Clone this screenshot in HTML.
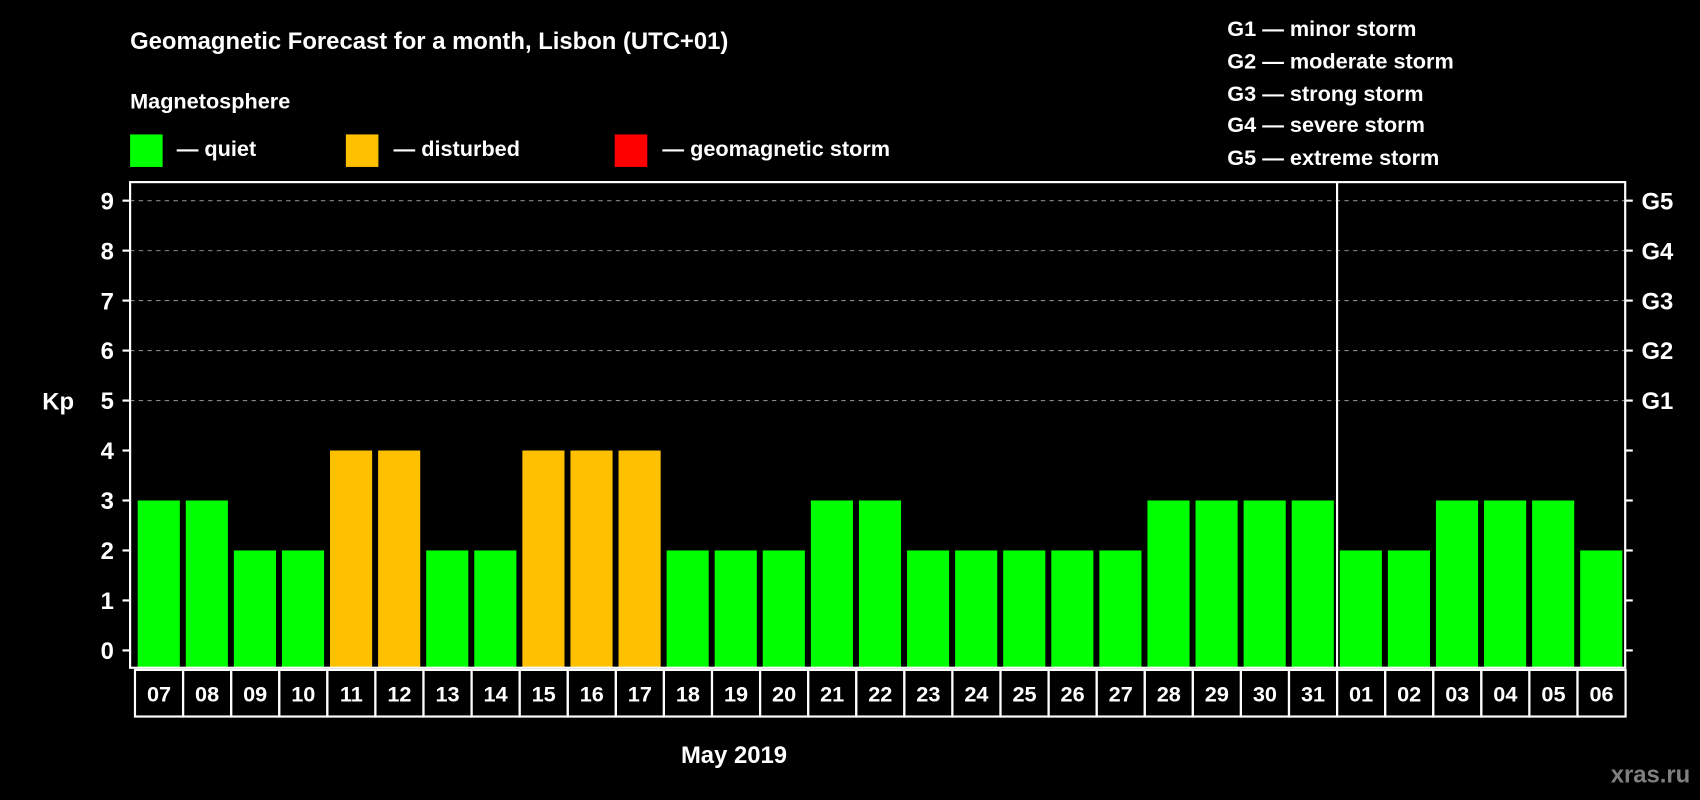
<!DOCTYPE html>
<html><head><meta charset="utf-8"><style>
html,body{margin:0;padding:0;background:#000;}
svg{display:block;font-family:"Liberation Sans",Arial,sans-serif;font-weight:bold;}
</style></head><body>
<svg id="chart" width="1700" height="800" viewBox="0 0 1568 738" preserveAspectRatio="none" xmlns="http://www.w3.org/2000/svg">
<rect width="1568" height="738" fill="#000"/>
<text x="120" y="45" fill="#fff" font-size="22">Geomagnetic Forecast for a month, Lisbon (UTC+01)</text>
<text x="120" y="100" fill="#fff" font-size="20">Magnetosphere</text>
<g><rect x="120" y="124" width="30" height="30" fill="#00ff00"/><text x="163" y="144" fill="#fff" font-size="20">— quiet</text></g>
<g><rect x="319" y="124" width="30" height="30" fill="#ffc000"/><text x="363" y="144" fill="#fff" font-size="20">— disturbed</text></g>
<g><rect x="567" y="124" width="30" height="30" fill="#ff0000"/><text x="611" y="144" fill="#fff" font-size="20">— geomagnetic storm</text></g>
<g fill="#fff" font-size="20">
<text x="1132" y="33">G1 — minor storm</text>
<text x="1132" y="63">G2 — moderate storm</text>
<text x="1132" y="93">G3 — strong storm</text>
<text x="1132" y="122">G4 — severe storm</text>
<text x="1132" y="152">G5 — extreme storm</text>
</g>
<text x="39" y="378" fill="#fff" font-size="22">Kp</text>
<text x="677" y="704" fill="#fff" font-size="22" text-anchor="middle">May 2019</text>
<text x="1559" y="722" fill="#808080" font-size="22" text-anchor="end">xras.ru</text>
<g id="grid"></g><g id="bars"></g><g id="days"></g><g id="axes"></g>
</svg>
<script>
const days=["07","08","09","10","11","12","13","14","15","16","17","18","19","20","21","22","23","24","25","26","27","28","29","30","31","01","02","03","04","05","06"];
const kp=[3,3,2,2,4,4,2,2,4,4,4,2,2,2,3,3,2,2,2,2,2,3,3,3,3,2,2,3,3,3,2];
const yTicks=[0,1,2,3,4,5,6,7,8,9];
const gLabels=["G1","G2","G3","G4","G5"];
const NS="http://www.w3.org/2000/svg";
const L=120,R=1499,T=168,B=616,X0=124.5,P=44.35;
const y=v=>600-v*46.1;
const x=i=>X0+i*P;
function mk(t,a,p){const e=document.createElementNS(NS,t);for(const k in a)e.setAttribute(k,a[k]);p.appendChild(e);return e;}
const grid=document.getElementById('grid'),bars=document.getElementById('bars'),dg=document.getElementById('days'),ax=document.getElementById('axes');
yTicks.forEach(v=>{
 if(v>=5){const g=mk('line',{x1:L,x2:R,y1:y(v),y2:y(v),stroke:'#888','stroke-dasharray':'4,4','stroke-width':1},grid);
 
 }
 const t1=mk('line',{x1:L-7,x2:L,y1:y(v),y2:y(v),stroke:'#fff','stroke-width':2},ax);
 
 
 const t2=mk('line',{x1:R,x2:R+7,y1:y(v),y2:y(v),stroke:'#fff','stroke-width':2},ax);
 
 
 const lb=mk('text',{x:105,y:y(v)+8,fill:'#fff','font-size':22,'text-anchor':'end'},ax);lb.textContent=v;
 
 
});
gLabels.forEach((g,i)=>{const t=mk('text',{x:1514,y:y(5+i)+8,fill:'#fff','font-size':22},ax);t.textContent=g;
 
 });
kp.forEach((v,i)=>{
 const c=v>=5?'#ff0000':(v>=4?'#ffc000':'#00ff00');
 const b=mk('rect',{x:x(i)+2.5,y:y(v),width:P-5.5,height:B-y(v),fill:c},bars);
 
 
 const c2=mk('rect',{x:x(i),y:618,width:P,height:43,fill:'none',stroke:'#fff','stroke-width':2},dg);
 
 
 const t=mk('text',{x:x(i)+P/2,y:647,fill:'#fff','font-size':20,'text-anchor':'middle'},dg);t.textContent=days[i];
 
 
});
const fr=mk('rect',{x:L,y:T,width:R-L,height:B-T,fill:'none',stroke:'#fff','stroke-width':2},ax);


const mi=days.indexOf("01");
const ml=mk('line',{x1:x(mi),x2:x(mi),y1:T,y2:B,stroke:'#fff','stroke-width':2},ax);


</script>
</body></html>
